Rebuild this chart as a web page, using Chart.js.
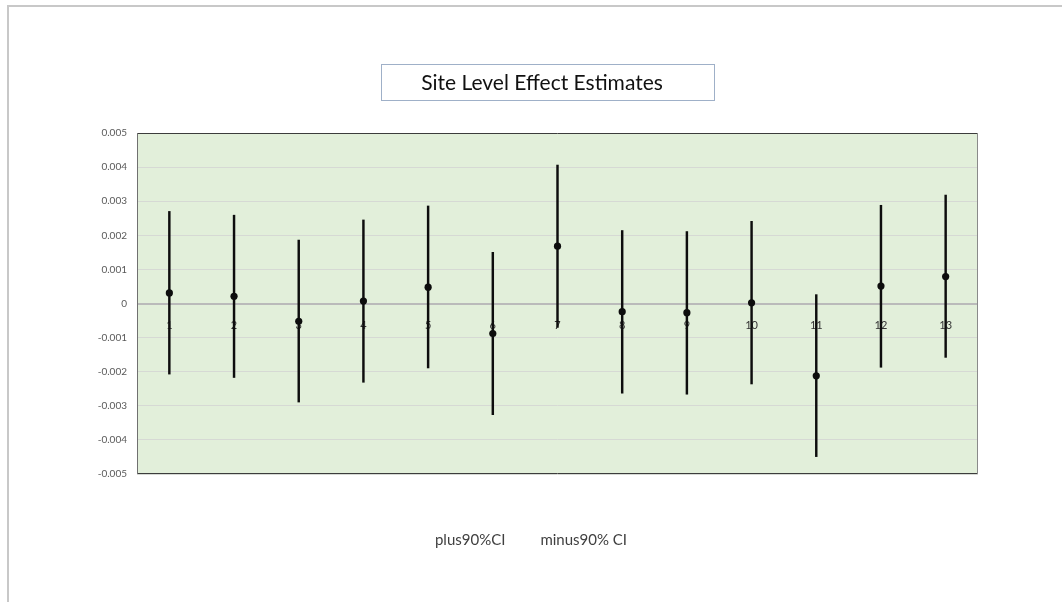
<!DOCTYPE html>
<html>
<head>
<meta charset="utf-8">
<title>Site Level Effect Estimates</title>
<script src="https://cdn.jsdelivr.net/npm/chart.js@4.4.1/dist/chart.umd.min.js"></script>
<style>
  html, body { margin: 0; padding: 0; background: #ffffff; }
  #wrap { width: 1062px; height: 602px; }
  canvas { display: block; }
</style>
</head>
<body>
<div id="wrap"><canvas id="chart" width="1062" height="602"></canvas></div>
<script>
// ---- data ----
const TITLE = 'Site Level Effect Estimates';
const SITES = ['1', '2', '3', '4', '5', '6', '7', '8', '9', '10', '11', '12', '13'];
const ESTIMATE = [0.00031, 0.00021, -0.00052, 0.00007, 0.00048, -0.00088, 0.00168, -0.00024, -0.00027, 0.00002, -0.00212, 0.00051, 0.00079];
const PLUS_90_CI = [0.00270, 0.00259, 0.00186, 0.00245, 0.00286, 0.00150, 0.00406, 0.00214, 0.00211, 0.00241, 0.00026, 0.00288, 0.00318];
const MINUS_90_CI = [-0.00207, -0.00217, -0.00289, -0.00231, -0.00189, -0.00326, -0.00070, -0.00263, -0.00266, -0.00236, -0.00449, -0.00187, -0.00158];
const LEGEND_LABELS = ['plus90%CI', 'minus90% CI'];
const Y_MIN = -0.005, Y_MAX = 0.005, Y_STEP = 0.001;

// ---- styling ----
const FONT = 'Lato, "Open Sans", "Noto Sans", sans-serif';
const PLOT_BG = '#e2efda';
const GRID = '#d6d9d4';
const ZERO_LINE = '#bababa';
const MARK = '#0d0d0d';

Chart.defaults.font.family = FONT;

// Background, frames, title box and legend text drawn around the plot.
const decorations = {
  id: 'decorations',
  beforeDraw(chart) {
    const { ctx, chartArea: a } = chart;
    ctx.save();
    ctx.fillStyle = '#c8c8c8';
    ctx.fillRect(7, 5, chart.width - 7, 2);
    ctx.fillRect(7, 5, 2, chart.height - 5);
    ctx.fillStyle = PLOT_BG;
    ctx.fillRect(Math.floor(a.left), Math.floor(a.top),
                 Math.ceil(a.right) - Math.floor(a.left), Math.ceil(a.bottom) - Math.floor(a.top));
    ctx.restore();
  },
  beforeDatasetsDraw(chart) {
    const { ctx, chartArea: a } = chart;
    const l = Math.round(a.left), r = Math.round(a.right);
    const t = Math.round(a.top), b = Math.round(a.bottom);
    ctx.save();
    ctx.lineWidth = 1;
    ctx.strokeStyle = '#3c3c3c';
    ctx.beginPath();
    ctx.moveTo(l, t + 0.5); ctx.lineTo(r, t + 0.5);
    ctx.moveTo(l, b - 0.5); ctx.lineTo(r, b - 0.5);
    ctx.stroke();
    ctx.strokeStyle = '#707070';
    ctx.beginPath();
    ctx.moveTo(l + 0.5, t); ctx.lineTo(l + 0.5, b);
    ctx.stroke();
    ctx.strokeStyle = '#8a8a8a';
    ctx.beginPath();
    ctx.moveTo(r - 0.5, t); ctx.lineTo(r - 0.5, b);
    ctx.stroke();
    ctx.restore();
  },
  afterDraw(chart) {
    const { ctx } = chart;
    ctx.save();
    // title in a framed box
    ctx.fillStyle = '#ffffff';
    ctx.fillRect(381, 64, 333, 36);
    ctx.strokeStyle = '#9fb0c8';
    ctx.lineWidth = 1;
    ctx.strokeRect(381.5, 64.5, 333, 36);
    ctx.fillStyle = '#111111';
    ctx.font = '21px ' + FONT;
    ctx.textAlign = 'center';
    ctx.textBaseline = 'middle';
    ctx.fillText(TITLE, 542, 83);

    // legend entries (text only)
    ctx.font = '15px ' + FONT;
    ctx.fillStyle = '#404040';
    ctx.textAlign = 'left';
    const gap = 35;
    const widths = LEGEND_LABELS.map(t => ctx.measureText(t).width);
    const total = widths.reduce((s, w) => s + w, 0) + gap * (widths.length - 1);
    let x = chart.width / 2 - total / 2;
    LEGEND_LABELS.forEach((t, i) => {
      ctx.fillText(t, x, 540);
      x += widths[i] + gap;
    });
    ctx.restore();
  }
};

// each interval is split at the estimate into an upper and a lower segment
const upperBars = ESTIMATE.map((v, i) => [v, PLUS_90_CI[i]]);
const lowerBars = ESTIMATE.map((v, i) => [MINUS_90_CI[i], v]);

new Chart(document.getElementById('chart'), {
  type: 'bar',
  data: {
    labels: SITES,
    datasets: [
      {
        type: 'line',
        label: 'estimate',
        data: ESTIMATE,
        showLine: false,
        pointRadius: 3.6,
        pointHoverRadius: 3.6,
        pointBackgroundColor: MARK,
        pointBorderColor: MARK,
        pointBorderWidth: 0,
        order: 0
      },
      {
        label: LEGEND_LABELS[0],
        data: upperBars,
        backgroundColor: MARK,
        borderWidth: 0,
        barThickness: 1.8,
        grouped: false,
        order: 1
      },
      {
        label: LEGEND_LABELS[1],
        data: lowerBars,
        backgroundColor: MARK,
        borderWidth: 0,
        barThickness: 1.8,
        grouped: false,
        order: 1
      }
    ]
  },
  options: {
    responsive: false,
    animation: false,
    devicePixelRatio: 1,
    layout: { padding: { top: 133, bottom: 128, left: 0, right: 84 } },
    plugins: {
      legend: { display: false },
      title: { display: false },
      tooltip: { enabled: false }
    },
    scales: {
      x: {
        position: { y: 0 },
        offset: true,
        grid: { display: false, drawTicks: false },
        border: { display: false },
        ticks: {
          color: '#333333',
          font: { size: 11 },
          padding: 15,
          maxRotation: 0,
          autoSkip: false
        }
      },
      y: {
        min: Y_MIN,
        max: Y_MAX,
        afterFit(scale) { scale.width = 137; },
        grid: {
          drawTicks: false,
          color: ctx => (ctx.tick && ctx.tick.value === 0 ? ZERO_LINE : GRID),
          lineWidth: ctx => (ctx.tick && ctx.tick.value === 0 ? 2 : 1)
        },
        border: { display: false },
        ticks: {
          stepSize: Y_STEP,
          color: '#595959',
          font: { size: 10 },
          padding: 10,
          callback: v => String(Number(Number(v).toFixed(3)))
        }
      }
    }
  },
  plugins: [decorations]
});
</script>
</body>
</html>
